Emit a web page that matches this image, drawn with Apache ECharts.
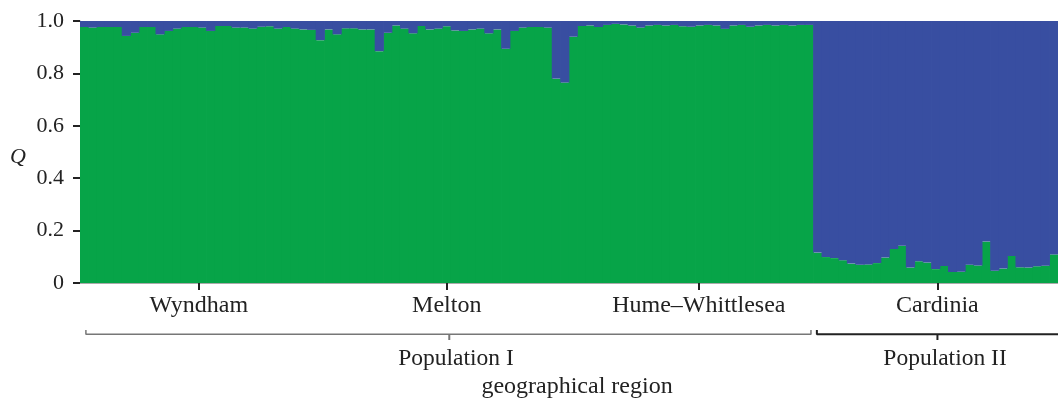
<!DOCTYPE html>
<html>
<head>
<meta charset="utf-8">
<script src="https://cdn.jsdelivr.net/npm/echarts@6/dist/echarts.min.js"></script>
<style>html,body{margin:0;padding:0;background:#fff}#c{width:1058px;height:400px}</style>
</head>
<body>
<div id="c"></div>
<script>
// ---- data: membership coefficient Q for cluster 1 (green) per individual ----
const popIGreen = [
  0.977,0.975,0.977,0.977,0.977,0.943,0.955,0.977,0.977,0.949,
  0.962,0.971,0.977,0.977,0.975,0.962,0.981,0.981,0.975,0.975,
  0.971,0.978,0.980,0.971,0.977,0.971,0.968,0.966,0.927,0.968,
  0.949,0.972,0.972,0.968,0.968,0.885,0.955,0.983,0.971,0.953,
  0.981,0.968,0.971,0.980,0.964,0.962,0.968,0.971,0.953,0.968,
  0.894,0.962,0.975,0.977,0.977,0.975,0.780,0.765,0.940,0.981,
  0.983,0.977,0.985,0.989,0.987,0.983,0.975,0.983,0.985,0.983,
  0.985,0.980,0.978,0.983,0.985,0.983,0.970,0.983,0.985,0.978,
  0.983,0.985,0.983,0.985,0.983,0.985,0.985
];
const popIIGreen = [
  0.116,0.099,0.095,0.087,0.074,0.070,0.071,0.076,0.097,0.130,
  0.142,0.059,0.083,0.078,0.053,0.065,0.042,0.043,0.070,0.067,
  0.158,0.047,0.055,0.103,0.060,0.059,0.064,0.066,0.109
];
const clusterGreen = popIGreen.concat(popIIGreen);
const clusterBlue = clusterGreen.map(v => +(1 - v).toFixed(3));
const individuals = clusterGreen.map((_, i) => 'ind' + (i + 1));

const yTicks = [0, 0.2, 0.4, 0.6, 0.8, 1.0];
const regionLabels = ['Wyndham', 'Melton', 'Hume–Whittlesea', 'Cardinia'];
const regionAt = [14.1, 43.5, 73.4, 101.7];          // in individual-index units
const populationLabels = ['Population I', 'Population II'];
const populationLabelAt = [44.6, 102.6];
const populationBrackets = [
  { start: 0.7, end: 86.7, mid: 43.8, color: '#777', width: 1.5, upRight: true },
  { start: 87.4, end: 116, mid: 101.7, color: '#222', width: 2, upRight: false }
];

const N = individuals.length;
const FONT = 'Liberation Serif';
const TXT = '#222';
const GREEN = '#07a448';
const BLUE = '#384ea1';

const bracketSeries = [];
populationBrackets.forEach(b => {
  const pts = [[b.start, 1], [b.start, 0.58], [b.end, 0.58]];
  if (b.upRight) pts.push([b.end, 1]);
  bracketSeries.push({
    type: 'line', xAxisIndex: 2, yAxisIndex: 1, data: pts, symbol: 'none',
    silent: true, lineStyle: { color: b.color, width: b.width }
  });
  bracketSeries.push({
    type: 'line', xAxisIndex: 2, yAxisIndex: 1, data: [[b.mid, 0.58], [b.mid, 0]], symbol: 'none',
    silent: true, lineStyle: { color: b.color, width: 2 }
  });
});

const chart = echarts.init(document.getElementById('c'));
chart.setOption({
  animation: false,
  backgroundColor: '#fff',
  textStyle: { fontFamily: FONT },
  grid: [
    { left: 80, right: 0, top: 21, bottom: 117 },
    { left: 80, right: 0, top: 330, height: 12 }
  ],
  xAxis: [
    { type: 'category', gridIndex: 0, data: individuals, show: false },
    {
      type: 'value', gridIndex: 0, min: 0, max: N, position: 'bottom',
      axisLine: { show: true, lineStyle: { color: '#aaa', width: 1 } },
      axisTick: { show: true, customValues: regionAt, length: 7, lineStyle: { color: TXT, width: 2 } },
      axisLabel: {
        show: true, customValues: regionAt, margin: 11, fontSize: 24, color: TXT, fontFamily: FONT,
        formatter: v => { const i = regionAt.findIndex(p => Math.abs(p - v) < 1e-6); return i >= 0 ? regionLabels[i] : ''; }
      },
      splitLine: { show: false }
    },
    {
      type: 'value', gridIndex: 1, min: 0, max: N,
      axisLine: { show: false }, axisTick: { show: false }, splitLine: { show: false },
      axisLabel: {
        show: true, customValues: populationLabelAt, margin: 7, fontSize: 23.5, color: TXT, fontFamily: FONT,
        formatter: v => { const i = populationLabelAt.findIndex(p => Math.abs(p - v) < 1e-6); return i >= 0 ? populationLabels[i] : ''; }
      },
      name: 'geographical region', nameLocation: 'middle', nameGap: 35,
      nameTextStyle: { fontSize: 24, color: TXT, fontFamily: FONT, padding: [0, 0, 0, 16] }
    }
  ],
  yAxis: [
    {
      type: 'value', gridIndex: 0, min: 0, max: 1, interval: 0.2,
      axisLine: { show: true, lineStyle: { color: '#aaa', width: 1 } },
      axisTick: { show: true, length: 7, lineStyle: { color: TXT, width: 2 } },
      axisLabel: {
        margin: 16, fontSize: 22, color: TXT, fontFamily: FONT,
        formatter: v => { const t = yTicks.find(x => Math.abs(x - v) < 1e-6); return t === 0 ? '0' : t.toFixed(1); }
      },
      splitLine: { show: false },
      name: 'Q', nameLocation: 'middle', nameRotate: 0, nameGap: 54,
      nameTextStyle: { fontSize: 22, fontStyle: 'italic', color: TXT, fontFamily: FONT, verticalAlign: 'top', lineHeight: 10 }
    },
    { type: 'value', gridIndex: 1, min: 0, max: 1, show: false }
  ],
  series: [
    {
      name: 'cluster 1', type: 'bar', stack: 'q', xAxisIndex: 0, yAxisIndex: 0,
      data: clusterGreen, barWidth: 9.2,
      itemStyle: { color: GREEN }, silent: true
    },
    {
      name: 'cluster 2', type: 'bar', stack: 'q', xAxisIndex: 0, yAxisIndex: 0,
      data: clusterBlue, barWidth: 9.2,
      itemStyle: { color: BLUE }, silent: true
    }
  ].concat(bracketSeries)
});
</script>
</body>
</html>
